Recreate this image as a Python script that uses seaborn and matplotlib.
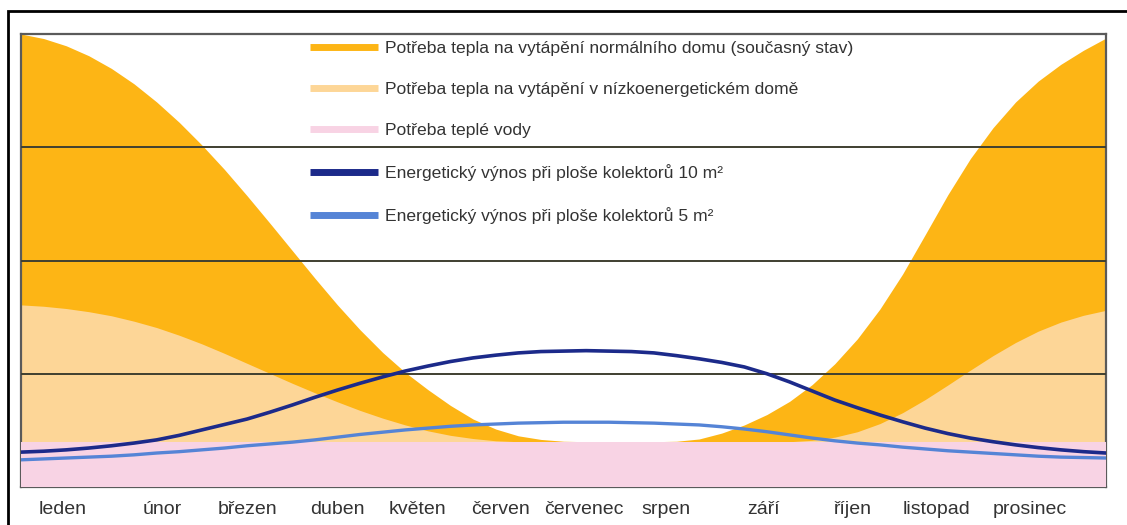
import matplotlib
matplotlib.use("Agg")
import matplotlib.pyplot as plt
from matplotlib.lines import Line2D
from matplotlib.patches import Rectangle
import seaborn as sns
import numpy as np
import pandas as pd

# quarter-month sample points, Jan start .. Dec end
x_pos = np.linspace(0, 12, 49)

# heating demand, normal house (current state)
normal_house = [100, 99.0, 97.4, 95.2, 92.4, 89.0, 85.0, 80.5, 75.5, 70.1, 64.3, 58.3, 52.2,
                46.1, 40.2, 34.7, 29.7, 25.3, 21.5, 18.0, 15.0, 12.8, 11.3, 10.5, 10.1, 10.0,
                10, 10, 10,
                10.1, 10.6, 11.9, 13.7, 16.0, 18.9, 22.6, 27.2, 32.7, 39.3, 47.0, 55.7,
                64.5, 72.5, 79.3, 85.0, 89.6, 93.3, 96.4, 99.1]
# heating demand, low-energy house
low_energy = [40.2, 39.9, 39.4, 38.7, 37.8, 36.6, 35.2, 33.5, 31.6, 29.5, 27.3, 25.1, 22.9,
              20.8, 18.8, 16.9, 15.2, 13.7, 12.4, 11.4, 10.7, 10.2, 10.0,
              10, 10, 10, 10, 10, 10, 10, 10, 10, 10, 10, 10,
              10.3, 11.0, 12.2, 14.0, 16.4, 19.3, 22.5, 25.8, 29.0, 31.9, 34.4, 36.4, 37.9, 39.0]
# hot water demand
hot_water = [10] * 49
# collector yield 10 m2
yield_10 = [7.7, 7.9, 8.2, 8.6, 9.1, 9.7, 10.4, 11.4, 12.6, 13.8, 15.0, 16.5, 18.1,
            19.8, 21.4, 22.9, 24.3, 25.6, 26.7, 27.7, 28.5, 29.1, 29.6, 29.9, 30.0,
            30.1, 30.0, 29.9, 29.6, 29.0, 28.3, 27.5, 26.5, 25.0, 23.2, 21.2, 19.2,
            17.5, 15.9, 14.4, 13.0, 11.8, 10.8, 10.0, 9.3, 8.7, 8.2, 7.8, 7.5]
# collector yield 5 m2
yield_5 = [6.0, 6.2, 6.4, 6.6, 6.8, 7.1, 7.5, 7.8, 8.2, 8.6, 9.1, 9.5, 9.9,
           10.4, 11.0, 11.6, 12.1, 12.6, 13.0, 13.4, 13.7, 13.9, 14.1, 14.2, 14.3,
           14.3, 14.3, 14.2, 14.1, 13.9, 13.7, 13.3, 12.8, 12.2, 11.5, 10.8, 10.2,
           9.7, 9.3, 8.8, 8.4, 8.0, 7.7, 7.4, 7.1, 6.8, 6.6, 6.5, 6.4]

months = ["leden", "únor", "březen", "duben", "květen", "červen", "červenec",
          "srpen", "září", "říjen", "listopad", "prosinec"]
month_label_pos = [0.46, 1.56, 2.51, 3.50, 4.39, 5.30, 6.22, 7.13, 8.21, 9.20, 10.13, 11.16]

labels = [
    "Potřeba tepla na vytápění normálního domu (současný stav)",
    "Potřeba tepla na vytápění v nízkoenergetickém domě",
    "Potřeba teplé vody",
    "Energetický výnos při ploše kolektorů 10 m²",
    "Energetický výnos při ploše kolektorů 5 m²",
]

c_orange = "#fdb515"
c_light = "#fdd697"
c_pink = "#f8d3e4"
c_dark = "#1c2a8a"
c_blue = "#5584d6"

df = pd.DataFrame({"x": x_pos, "normal": normal_house, "low": low_energy,
                   "water": hot_water, "y10": yield_10, "y5": yield_5})

sns.set_theme(style="white")
plt.rcParams["font.family"] = ["Liberation Sans", "DejaVu Sans"]

fig = plt.figure(figsize=(11.27, 5.25), dpi=100)
ax = fig.add_axes([21 / 1127, 38 / 525, 1085 / 1127, 453 / 525])

ax.fill_between(df["x"], df["water"], df["normal"], color=c_orange, lw=0, zorder=1)
ax.fill_between(df["x"], df["water"], df["low"], color=c_light, lw=0, zorder=2)
ax.fill_between(df["x"], 0, df["water"], color=c_pink, lw=0, zorder=3)

sns.lineplot(data=df, x="x", y="y10", ax=ax, color=c_dark, lw=2.6, zorder=6)
sns.lineplot(data=df, x="x", y="y5", ax=ax, color=c_blue, lw=2.4, zorder=5)

ax.set_xlim(0, 12)
ax.set_ylim(0, 100)
ax.set_yticks([25, 50, 75])
ax.set_yticklabels([])
ax.yaxis.grid(True, color="#3f3f30", lw=1.4, zorder=4)
ax.set_axisbelow(False)
ax.tick_params(axis="y", length=0)
ax.set_xticks(month_label_pos)
ax.set_xticklabels(months, fontsize=14, color="#333333")
ax.tick_params(axis="x", length=0, pad=10)
ax.set_xlabel("")
ax.set_ylabel("")
for s in ax.spines.values():
    s.set_color("#5a5a5a")
    s.set_linewidth(1.6)

handles = [Line2D([], [], color=c, lw=5, solid_capstyle="butt")
           for c in [c_orange, c_light, c_pink, c_dark, c_blue]]
leg = ax.legend(handles, labels, loc="upper left", bbox_to_anchor=(0.2664, 0.984),
                frameon=False, fontsize=12.6, handlelength=3.9, handletextpad=0.4,
                labelspacing=1.47, borderpad=0, borderaxespad=0)
for t in leg.get_texts():
    t.set_color("#333333")

# outer frame of the picture
fig.patches.append(Rectangle((8 / 1127, -0.1), 1.2, 1.1 - 11 / 525,
                             transform=fig.transFigure, fill=False,
                             edgecolor="black", lw=2, zorder=10))

fig.savefig("out.png", dpi=100)
